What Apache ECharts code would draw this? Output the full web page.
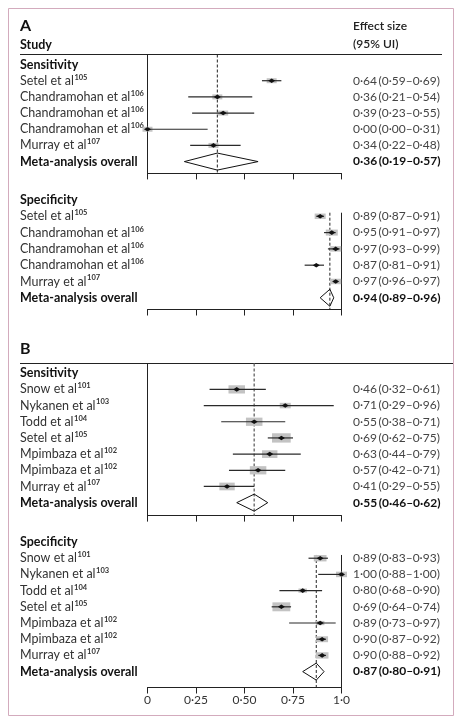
<!DOCTYPE html>
<html><head><meta charset="utf-8">
<script src="https://cdn.jsdelivr.net/npm/echarts@6/dist/echarts.min.js"></script>
<style>html,body{margin:0;padding:0;background:#fff}#c{width:462px;height:722px}</style>
</head><body><div id="c"></div>
<script>
// ---------- DATA ----------
const xTickLabels = ['0', '0·25', '0·50', '0·75', '1·0'];

// Panel A – Sensitivity
const sensA_studies = ['Setel et al', 'Chandramohan et al', 'Chandramohan et al', 'Chandramohan et al', 'Murray et al'];
const sensA_refs    = ['105', '106', '106', '106', '107'];
const sensA_est     = [0.64, 0.36, 0.39, 0.00, 0.34];
const sensA_lo      = [0.59, 0.21, 0.23, 0.00, 0.22];
const sensA_hi      = [0.69, 0.54, 0.55, 0.31, 0.48];
const sensA_weight  = [20, 20, 20, 20, 20];
const sensA_meta    = [0.36, 0.19, 0.57];

// Panel A – Specificity
const specA_studies = ['Setel et al', 'Chandramohan et al', 'Chandramohan et al', 'Chandramohan et al', 'Murray et al'];
const specA_refs    = ['105', '106', '106', '106', '107'];
const specA_est     = [0.89, 0.95, 0.97, 0.87, 0.97];
const specA_lo      = [0.87, 0.91, 0.93, 0.81, 0.96];
const specA_hi      = [0.91, 0.97, 0.99, 0.91, 0.97];
const specA_weight  = [22, 24, 22, 8, 22];
const specA_meta    = [0.94, 0.89, 0.96];

// Panel B – Sensitivity
const sensB_studies = ['Snow et al', 'Nykanen et al', 'Todd et al', 'Setel et al', 'Mpimbaza et al', 'Mpimbaza et al', 'Murray et al'];
const sensB_refs    = ['101', '103', '104', '105', '102', '102', '107'];
const sensB_est     = [0.46, 0.71, 0.55, 0.69, 0.63, 0.57, 0.41];
const sensB_lo      = [0.32, 0.29, 0.38, 0.62, 0.44, 0.42, 0.29];
const sensB_hi      = [0.61, 0.96, 0.71, 0.75, 0.79, 0.71, 0.55];
const sensB_weight  = [15, 10, 15, 17, 14, 15, 14];
const sensB_meta    = [0.55, 0.46, 0.62];

// Panel B – Specificity
const specB_studies = ['Snow et al', 'Nykanen et al', 'Todd et al', 'Setel et al', 'Mpimbaza et al', 'Mpimbaza et al', 'Murray et al'];
const specB_refs    = ['101', '103', '104', '105', '102', '102', '107'];
const specB_est     = [0.89, 1.00, 0.80, 0.69, 0.89, 0.90, 0.90];
const specB_lo      = [0.83, 0.88, 0.68, 0.64, 0.73, 0.87, 0.88];
const specB_hi      = [0.93, 1.00, 0.90, 0.74, 0.97, 0.92, 0.92];
const specB_weight  = [15, 13, 10, 21, 10, 14, 15];
const specB_meta    = [0.87, 0.80, 0.91];

// ---------- LAYOUT / STYLE ----------
const FONT = 'Lato';
const panels = [
  { name: 'Sensitivity', studies: sensA_studies, refs: sensA_refs, est: sensA_est, lo: sensA_lo, hi: sensA_hi, w: sensA_weight, meta: sensA_meta,
    top: 54.5, height: 118.9, min: -0.62, max: 6.73, side: 'left', lineStart: -0.62, boxScale: 0.5, dash: '#222' },
  { name: 'Specificity', studies: specA_studies, refs: specA_refs, est: specA_est, lo: specA_lo, hi: specA_hi, w: specA_weight, meta: specA_meta,
    top: 189.9, height: 119.6, min: -0.62, max: 6.72, side: 'right', lineStart: 0.78, boxScale: 0.5, dash: '#222' },
  { name: 'Sensitivity', studies: sensB_studies, refs: sensB_refs, est: sensB_est, lo: sensB_lo, hi: sensB_hi, w: sensB_weight, meta: sensB_meta,
    top: 363.5, height: 152.1, min: -0.6, max: 8.8, side: 'left', lineStart: -0.6, boxScale: 1.1, dash: '#777' },
  { name: 'Specificity', studies: specB_studies, refs: specB_refs, est: specB_est, lo: specB_lo, hi: specB_hi, w: specB_weight, meta: specB_meta,
    top: 532.3, height: 155.2, min: -0.6, max: 8.98, side: 'right', lineStart: 0.8, boxScale: 0.85, dash: '#222' }
];

const fmt = v => v.toFixed(2).replace('.', '·');
const ci = (e, l, h) => fmt(e) + '\u2009(' + fmt(l) + '–' + fmt(h) + ')';

const grid = [], xAxis = [], yAxis = [], series = [];

panels.forEach((p, i) => {
  const n = p.studies.length;
  const rows = [];
  for (let k = 0; k <= n + 1; k++) rows.push(k);
  const leftLabels = ['{h|' + p.name + '}'].concat(p.studies.map((s, k) => '{n|' + s + '}{s|' + p.refs[k] + '}'), ['{h|Meta-analysis overall}']);
  const rightLabels = [''].concat(p.est.map((e, k) => '{v|' + ci(e, p.lo[k], p.hi[k]) + '}'), ['{vb|' + ci(p.meta[0], p.meta[1], p.meta[2]) + '}']);

  grid.push({ left: 147.5, width: 194, top: p.top, height: p.height });
  const last = i === panels.length - 1;
  xAxis.push({
    type: 'value', gridIndex: i, min: 0, max: 1, interval: 0.25, position: 'bottom',
    axisLine: { show: true, onZero: false, lineStyle: { color: '#222', width: 1 } },
    axisTick: { show: true, length: 6, lineStyle: { color: '#222', width: 1 } },
    splitLine: { show: false },
    axisLabel: { show: last, margin: 7, color: '#333', fontFamily: FONT, fontSize: 12,
      formatter: v => xTickLabels[Math.round(v * 4)] }
  });
  yAxis.push({
    type: 'value', gridIndex: i, inverse: true, min: p.min, max: p.max, position: 'left',
    axisLine: { show: p.side === 'left', onZero: false, lineStyle: { color: '#222', width: 1 } },
    axisTick: { show: false }, splitLine: { show: false },
    axisLabel: {
      customValues: rows, align: 'left', margin: 127.5,
      formatter: v => leftLabels[Math.round(v)],
      rich: {
        h: { fontFamily: FONT, fontSize: 12.5, fontWeight: 'bold', color: '#111', lineHeight: 15 },
        n: { fontFamily: FONT, fontSize: 12.5, color: '#333', lineHeight: 15 },
        s: { fontFamily: FONT, fontSize: 7.5, fontWeight: 'bold', color: '#333', verticalAlign: 'top', lineHeight: 9, padding: [0, 0, 0, 0.5] }
      }
    }
  });
  yAxis.push({
    type: 'value', gridIndex: i, inverse: true, min: p.min, max: p.max, position: 'right',
    axisLine: { show: false, onZero: false }, axisTick: { show: false }, splitLine: { show: false },
    axisLabel: {
      customValues: rows.slice(1), align: 'left', margin: 11.5,
      formatter: v => rightLabels[Math.round(v)],
      rich: {
        v: { fontFamily: FONT, fontSize: 12, color: '#444' },
        vb: { fontFamily: FONT, fontSize: 12, fontWeight: 'bold', color: '#111' }
      }
    }
  });

  // dashed line at pooled estimate
  series.push({
    type: 'line', xAxisIndex: i, yAxisIndex: 2 * i, symbol: 'none', silent: true, z: 1,
    data: [[p.meta[0], p.lineStart], [p.meta[0], p.max]],
    lineStyle: { color: p.dash, width: i === 2 ? 1.5 : 1, type: [3, 2] }
  });
  // solid reference line at 1.0 for specificity panels
  if (p.side === 'right') {
    series.push({
      type: 'line', xAxisIndex: i, yAxisIndex: 2 * i, symbol: 'none', silent: true, z: 1,
      data: [[1, p.lineStart], [1, p.max]],
      lineStyle: { color: '#222', width: 1 }
    });
  }
  // study estimates
  const scale = p.boxScale;
  series.push({
    type: 'custom', xAxisIndex: i, yAxisIndex: 2 * i, z: 3, silent: true,
    data: p.est.map((e, k) => [e, p.lo[k], p.hi[k], k + 1, p.w[k]]),
    renderItem: (params, api) => {
      const row = api.value(3);
      const c = api.coord([api.value(0), row]);
      const l = api.coord([api.value(1), row]);
      const r = api.coord([api.value(2), row]);
      const bw = api.value(4) * scale, bh = bw * 0.5;
      return { type: 'group', children: [
        { type: 'rect', shape: { x: c[0] - bw / 2, y: c[1] - bh / 2, width: bw, height: bh }, style: { fill: '#c3c3c3' } },
        { type: 'line', shape: { x1: l[0], y1: c[1], x2: r[0], y2: c[1] }, style: { stroke: '#2a2a2a', lineWidth: 1.2 } },
        { type: 'polygon', shape: { points: [[c[0] - 3.5, c[1]], [c[0], c[1] - 2.3], [c[0] + 3.5, c[1]], [c[0], c[1] + 2.3]] }, style: { fill: '#111' } }
      ] };
    }
  });
  // pooled diamond
  series.push({
    type: 'custom', xAxisIndex: i, yAxisIndex: 2 * i, z: 2, silent: true,
    data: [[p.meta[0], p.meta[1], p.meta[2], n + 1]],
    renderItem: (params, api) => {
      const row = api.value(3);
      const c = api.coord([api.value(0), row]);
      const l = api.coord([api.value(1), row]);
      const r = api.coord([api.value(2), row]);
      return { type: 'polygon', shape: { points: [[l[0], c[1]], [c[0], c[1] - 8.5], [r[0], c[1]], [c[0], c[1] + 8.5]] },
        style: { fill: 'none', stroke: '#111', lineWidth: 1 } };
    }
  });
});

const chart = echarts.init(document.getElementById('c'), null, { renderer: 'canvas' });
chart.setOption({
  animation: false,
  backgroundColor: '#fff',
  title: [
    { text: 'A', left: 20, top: 18, padding: 0, textStyle: { fontFamily: FONT, fontSize: 16, fontWeight: 'bold', color: '#111' } },
    { text: 'Study', left: 20, top: 38, padding: 0, textStyle: { fontFamily: FONT, fontSize: 12.5, fontWeight: 'bold', color: '#111' } },
    { text: 'Effect size', left: 353, top: 20, padding: 0, textStyle: { fontFamily: FONT, fontSize: 12, fontWeight: 600, color: '#222' } },
    { text: '(95% UI)', left: 353, top: 38, padding: 0, textStyle: { fontFamily: FONT, fontSize: 12, fontWeight: 600, color: '#222' } },
    { text: 'B', left: 20, top: 341, padding: 0, textStyle: { fontFamily: FONT, fontSize: 16, fontWeight: 'bold', color: '#111' } }
  ],
  graphic: [
    { type: 'rect', shape: { x: 8.5, y: 8.5, width: 445, height: 707 }, style: { fill: 'none', stroke: '#d3abbd', lineWidth: 1 } },
    { type: 'line', shape: { x1: 20, y1: 54.5, x2: 442, y2: 54.5 }, style: { stroke: '#222', lineWidth: 1 } },
    { type: 'line', shape: { x1: 20, y1: 363.5, x2: 453, y2: 363.5 }, style: { stroke: '#222', lineWidth: 1 } }
  ],
  grid, xAxis, yAxis, series
});
</script></body></html>
